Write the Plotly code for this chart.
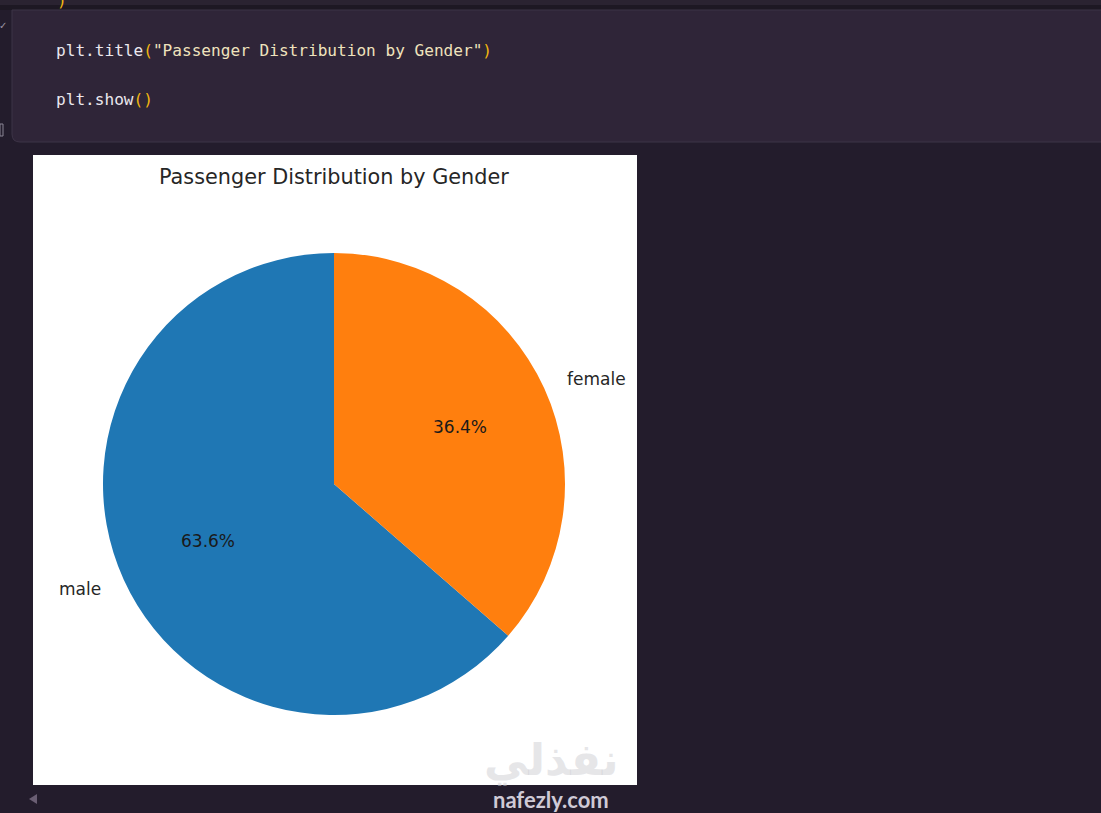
import math
import plotly.graph_objects as go

# ---- data ----
labels = ["male", "female"]
percents = [63.6, 36.4]
colors = ["#1f77b4", "#ff7f0e"]
title_text = "Passenger Distribution by Gender"
code_line_1 = "plt.title(\"Passenger Distribution by Gender\")"
code_line_2 = "plt.show()"

W, H = 1101, 813


def px(x):
    return x / W


def py(y):
    return 1 - y / H


# pie geometry (pixels)
CX, CY, R = 334, 484, 231
total = sum(percents)

fig = go.Figure()
fig.add_trace(go.Pie(
    labels=labels,
    values=percents,
    marker=dict(colors=colors, line=dict(width=0)),
    sort=False,
    direction="clockwise",
    # matplotlib: startangle=90, counterclockwise -> male spans the left side
    rotation=360.0 * percents[1] / total,
    textinfo="none",
    hoverinfo="label+percent",
    showlegend=False,
    domain=dict(x=[px(CX - R), px(CX + R)], y=[py(CY + R), py(CY - R)]),
))

annotations = []
start = 90.0
for lab, val in zip(labels, percents):
    sweep = 360.0 * val / total
    mid = math.radians(start + sweep / 2)
    start += sweep
    # label at 1.1 r
    lx = CX + 1.1 * R * math.cos(mid)
    ly = CY - 1.1 * R * math.sin(mid)
    annotations.append(dict(
        x=px(lx), y=py(ly), xref="paper", yref="paper",
        text=lab, showarrow=False,
        xanchor="left" if math.cos(mid) > 0 else "right", yanchor="middle",
        font=dict(family="DejaVu Sans", size=17, color="#262626"),
    ))
    # percent at 0.6 r
    tx = CX + 0.6 * R * math.cos(mid)
    ty = CY - 0.6 * R * math.sin(mid)
    annotations.append(dict(
        x=px(tx), y=py(ty), xref="paper", yref="paper",
        text=f"{val / total * 100:.1f}%", showarrow=False,
        xanchor="center", yanchor="middle",
        font=dict(family="DejaVu Sans", size=17, color="#1a1a1a"),
    ))

# chart title
annotations.append(dict(
    x=px(CX), y=py(177), xref="paper", yref="paper", text=title_text,
    showarrow=False, xanchor="center", yanchor="middle",
    font=dict(family="DejaVu Sans", size=20.8, color="#262626"),
))

# code cell text
WHITE = "#ebe8ee"
GOLD = "#f2b70f"
CREAM = "#efe3bd"
mono = "DejaVu Sans Mono"
line1 = (f"<span style='color:{WHITE}'>plt.title</span>"
         f"<span style='color:{GOLD}'>(</span>"
         f"<span style='color:{CREAM}'>\"Passenger Distribution by Gender\"</span>"
         f"<span style='color:{GOLD}'>)</span>")
line2 = (f"<span style='color:{WHITE}'>plt.show</span>"
         f"<span style='color:{GOLD}'>()</span>")
for txt, y in [(line1, 50), (line2, 99)]:
    annotations.append(dict(
        x=px(54), y=py(y), xref="paper", yref="paper", text=txt,
        showarrow=False, xanchor="left", yanchor="middle",
        font=dict(family=mono, size=16.1, color=WHITE),
    ))
# cropped closing paren at top (cut off in the original screenshot too)
annotations.append(dict(
    x=px(55), y=py(1), xref="paper", yref="paper", text=")",
    showarrow=False, xanchor="left", yanchor="middle",
    font=dict(family=mono, size=16.1, color=GOLD),
))
# gutter marks
annotations.append(dict(
    x=px(3), y=py(25), xref="paper", yref="paper", text="✓",
    showarrow=False, xanchor="center", yanchor="middle",
    font=dict(family="DejaVu Sans", size=10, color="#9a94a3"),
))

# watermark
annotations.append(dict(
    x=px(551), y=py(760), xref="paper", yref="paper", text="<b>نفذلي</b>",
    showarrow=False, xanchor="center", yanchor="middle",
    font=dict(family="DejaVu Sans", size=44, color="rgba(205,205,210,0.5)"),
))
annotations.append(dict(
    x=px(551), y=py(799), xref="paper", yref="paper", text="<b>nafezly.com</b>",
    showarrow=False, xanchor="center", yanchor="middle", borderpad=0,
    font=dict(family="Lato", size=22, color="#cfcad6"),
))

shapes = [
    # top strip
    dict(type="rect", xref="paper", yref="paper", x0=0, x1=1, y0=py(5), y1=1,
         fillcolor="#2a2331", line=dict(width=0), layer="below"),
    dict(type="rect", xref="paper", yref="paper", x0=0, x1=1, y0=py(10), y1=py(5),
         fillcolor="#1d1823", line=dict(width=0), layer="below"),
    # code cell
    dict(type="path", xref="paper", yref="paper",
         path=(f"M {px(12)},{py(10)} L {px(1110)},{py(10)} L {px(1110)},{py(142)} "
               f"L {px(20)},{py(142)} Q {px(12)},{py(142)} {px(12)},{py(134)} Z"),
         fillcolor="#2f2538", line=dict(width=1, color="#3d3447"), layer="below"),
    # gutter bracket
    dict(type="rect", xref="paper", yref="paper", x0=0, x1=px(3), y0=py(136), y1=py(124),
         fillcolor="rgba(0,0,0,0)", line=dict(width=1, color="#8a8494"), layer="below"),
    # white figure area
    dict(type="rect", xref="paper", yref="paper", x0=px(33), x1=px(637), y0=py(785), y1=py(155),
         fillcolor="#ffffff", line=dict(width=0), layer="below"),
    # scroll arrow
    dict(type="path", xref="paper", yref="paper",
         path=f"M {px(29)},{py(799)} L {px(37)},{py(794)} L {px(37)},{py(804)} Z",
         fillcolor="#6a5e73", line=dict(width=0), layer="below"),
]

fig.update_layout(
    width=W, height=H,
    margin=dict(l=0, r=0, t=0, b=0),
    paper_bgcolor="#231c2c",
    plot_bgcolor="#231c2c",
    annotations=annotations,
    shapes=shapes,
    showlegend=False,
)

fig.write_html(
    "out.html",
    config={"displayModeBar": False},
    post_script="document.body.style.margin='0';document.body.style.overflow='hidden';",
)
